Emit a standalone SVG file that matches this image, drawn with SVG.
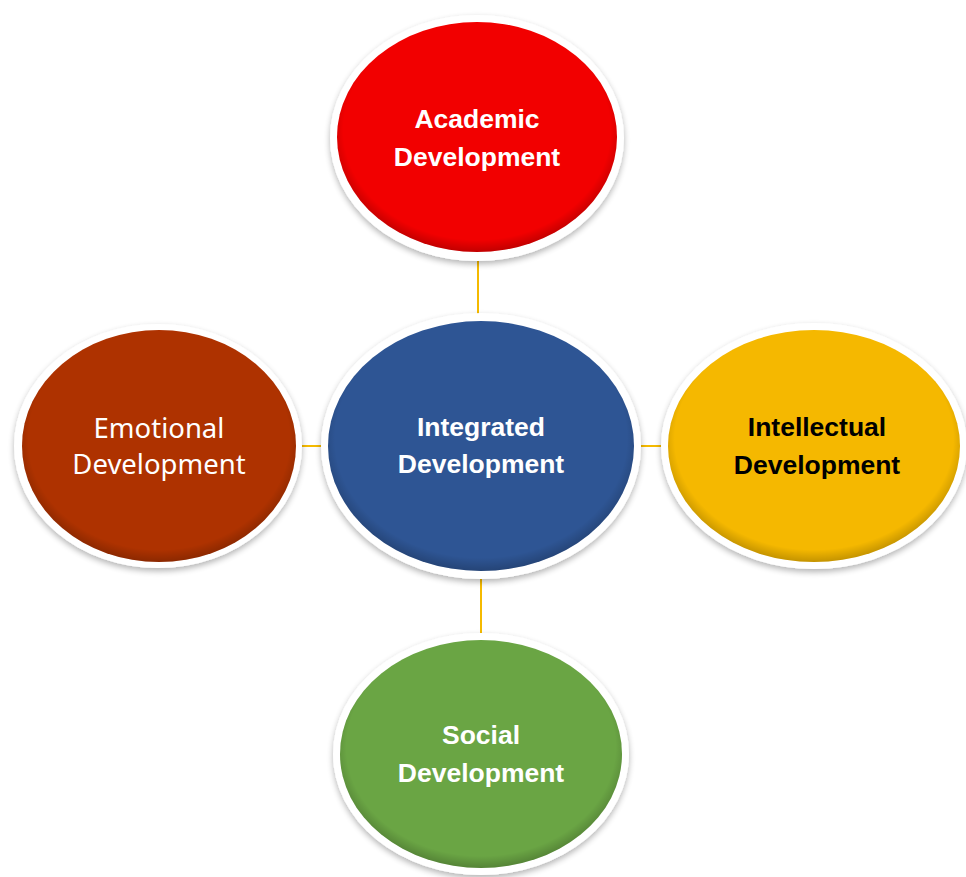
<svg xmlns="http://www.w3.org/2000/svg" width="966" height="877" viewBox="0 0 966 877">
<defs>
<style>
.ring{fill:#ffffff;filter:url(#sh);}
.b{font-family:"Liberation Sans",Arial,sans-serif;font-weight:bold;font-size:26.5px;text-anchor:middle;fill:#ffffff;}
.r{font-family:"Noto Sans","Open Sans",sans-serif;font-size:27.5px;text-anchor:middle;fill:#ffffff;}
.dark{fill:#000000;}
.conn line{stroke:#F5BA00;stroke-width:2;}
</style>
<filter id="sh" x="-10%" y="-10%" width="120%" height="125%">
<feGaussianBlur in="SourceAlpha" stdDeviation="3"/>
<feOffset dx="0" dy="3" result="o"/>
<feComponentTransfer><feFuncA type="linear" slope="0.3"/></feComponentTransfer>
<feMerge><feMergeNode/><feMergeNode in="SourceGraphic"/></feMerge>
</filter>
<radialGradient id="edge" cx="0.5" cy="0.47" r="0.53">
<stop offset="0.9" stop-color="#000" stop-opacity="0"/>
<stop offset="1" stop-color="#000" stop-opacity="0.2"/>
</radialGradient>
</defs>
<g class="conn">
<line x1="478" y1="258" x2="478" y2="318"/>
<line x1="300" y1="446" x2="323" y2="446"/>
<line x1="639" y1="446" x2="663" y2="446"/>
<line x1="481" y1="576" x2="481" y2="636"/>
</g>
<g id="academic">
<ellipse class="ring" cx="477" cy="138" rx="147" ry="123"/>
<ellipse cx="477" cy="137" rx="140" ry="115" fill="#F20000"/>
<ellipse cx="477" cy="137" rx="140" ry="115" fill="url(#edge)"/>
<text class="b" x="477" y="128">Academic</text>
<text class="b" x="477" y="166">Development</text>
</g>
<g id="emotional">
<ellipse class="ring" cx="158" cy="446" rx="144" ry="122"/>
<ellipse cx="159" cy="446" rx="137" ry="116" fill="#AE3200"/>
<ellipse cx="159" cy="446" rx="137" ry="116" fill="url(#edge)"/>
<text class="r" x="159" y="438">Emotional</text>
<text class="r" x="159" y="474">Development</text>
</g>
<g id="integrated">
<ellipse class="ring" cx="481" cy="446" rx="160" ry="133"/>
<ellipse cx="481" cy="446" rx="153" ry="125" fill="#2E5594"/>
<ellipse cx="481" cy="446" rx="153" ry="125" fill="url(#edge)"/>
<text class="b" x="481" y="436">Integrated</text>
<text class="b" x="481" y="473">Development</text>
</g>
<g id="intellectual">
<ellipse class="ring" cx="814" cy="446" rx="153" ry="123"/>
<ellipse cx="814" cy="446" rx="146" ry="116" fill="#F5B800"/>
<ellipse cx="814" cy="446" rx="146" ry="116" fill="url(#edge)"/>
<text class="b dark" x="817" y="436">Intellectual</text>
<text class="b dark" x="817" y="474">Development</text>
</g>
<g id="social">
<ellipse class="ring" cx="481" cy="754" rx="148" ry="121"/>
<ellipse cx="481" cy="754" rx="141" ry="114" fill="#6AA544"/>
<ellipse cx="481" cy="754" rx="141" ry="114" fill="url(#edge)"/>
<text class="b" x="481" y="744">Social</text>
<text class="b" x="481" y="782">Development</text>
</g>
</svg>
